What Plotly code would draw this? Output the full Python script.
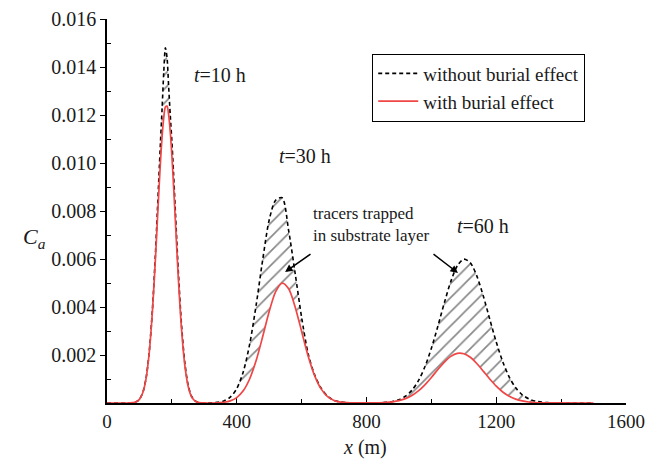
import plotly.graph_objects as go

# ---- data ----
x10 = [60, 70, 80, 90, 100, 110, 120, 130, 140, 150, 155, 160, 165, 170, 175, 180, 185, 190,
       195, 200, 205, 210, 215, 220, 230, 240, 250, 260, 270, 280, 290, 300]
red10 = [0.0000008, 0.0000036, 0.0000142, 0.0000498, 0.000153, 0.000414, 0.000987, 0.00207,
         0.00381, 0.00619, 0.00752, 0.00885, 0.01009, 0.01113, 0.01190, 0.01233, 0.01237,
         0.01202, 0.01131, 0.01031, 0.00911, 0.00779, 0.00645, 0.00518, 0.00303, 0.00156,
         0.00071, 0.00028, 0.0000995, 0.0000307, 0.0000083, 0.000002]
dash10 = [0.0000008, 0.0000036, 0.0000142, 0.00005, 0.000155, 0.00042, 0.001, 0.0021,
          0.00388, 0.0064, 0.0079, 0.0094, 0.0109, 0.0123, 0.0138, 0.0148, 0.0144, 0.0132,
          0.0120, 0.0109, 0.0096, 0.0082, 0.0068, 0.00545, 0.0032, 0.00166, 0.00076, 0.0003,
          0.000107, 0.000033, 0.000009, 0.000002]

x30 = [340, 360, 380, 400, 420, 440, 460, 480, 500, 520, 540, 560, 580, 600, 620, 640, 660,
       680, 700, 720, 740, 760]
red30 = [0.0000094, 0.0000306, 0.0000881, 0.000225, 0.000506, 0.001009, 0.001777, 0.002767,
         0.003812, 0.004641, 0.004997, 0.004757, 0.004004, 0.002980, 0.001961, 0.001141,
         0.000587, 0.000267, 0.000107, 0.0000381, 0.000012, 0.0000034]
dash30 = [0.0000266, 0.0000857, 0.000242, 0.000598, 0.001296, 0.002461, 0.004095, 0.005969,
          0.007624, 0.00845, 0.00855, 0.007184, 0.005406, 0.003565, 0.002059, 0.00118,
          0.00062, 0.00028, 0.000112, 0.00004, 0.0000125, 0.0000035]

x60 = [820, 840, 860, 880, 900, 920, 940, 960, 980, 1000, 1020, 1040, 1060, 1080, 1100, 1120,
       1140, 1160, 1180, 1200, 1220, 1240, 1260, 1280, 1300, 1320, 1340, 1360, 1380]
red60 = [0.0000042, 0.0000101, 0.0000231, 0.0000492, 0.0000975, 0.000181, 0.000312, 0.000504,
         0.000758, 0.001064, 0.001394, 0.001704, 0.001944, 0.002069, 0.002054, 0.001904,
         0.001646, 0.001328, 0.001000, 0.000702, 0.000460, 0.000281, 0.000161, 0.0000856,
         0.0000425, 0.0000197, 0.0000085, 0.0000034, 0.0000013]
dash60 = [0.0000045, 0.0000109, 0.0000273, 0.000064, 0.000139, 0.000282, 0.00053, 0.000928,
          0.001508, 0.002277, 0.003199, 0.004176, 0.005068, 0.005717, 0.005995, 0.005844,
          0.005295, 0.00446, 0.003491, 0.002541, 0.001719, 0.001081, 0.000632, 0.000343,
          0.000173, 0.0000814, 0.0000355, 0.0000144, 0.0000054]

x_start = [0]
x_end = [1500]
zero_start = [0]
zero_end = [0]

x_ticks = [0, 400, 800, 1200, 1600]
x_minor = [200, 600, 1000, 1400]
y_ticks = [0.002, 0.004, 0.006, 0.008, 0.010, 0.012, 0.014, 0.016]
y_tick_labels = ["0.002", "0.004", "0.006", "0.008", "0.010", "0.012", "0.014", "0.016"]
y_minor = [0.001, 0.003, 0.005, 0.007, 0.009, 0.011, 0.013, 0.015]

X = x_start + x10 + x30 + x60 + x_end
R = zero_start + red10 + red30 + red60 + zero_end
D = zero_start + dash10 + dash30 + dash60 + zero_end

FONT = "Liberation Serif"
RED = "rgb(240,70,70)"
TXT = "#1a1a1a"

fig = go.Figure()
# dashed curve (no fill so the legend shows only the dashed line)
fig.add_trace(go.Scatter(x=X, y=D, mode="lines", name="without burial effect",
                         line=dict(color="black", width=1.6, dash="4px,3px", shape="spline", smoothing=0.8)))
# hatch between red curve and dashed curve
fig.add_trace(go.Scatter(x=X, y=R, mode="lines", line=dict(width=0, shape="spline", smoothing=0.8),
                         fill="tonexty", fillcolor="rgba(0,0,0,0)",
                         fillpattern=dict(shape="/", fgcolor="#111111", bgcolor="rgba(255,255,255,0)",
                                          size=10, solidity=0.17),
                         showlegend=False, hoverinfo="skip"))
fig.add_trace(go.Scatter(x=X, y=R, mode="lines", name="with burial effect",
                         line=dict(color=RED, width=1.7, shape="spline", smoothing=0.8)))

ann = [
    dict(x=262, y=0.01367, text="<i>t</i>=10 h", xanchor="left", yanchor="middle"),
    dict(x=524, y=0.01029, text="<i>t</i>=30 h", xanchor="left", yanchor="middle"),
    dict(x=1073, y=0.00738, text="<i>t</i>=60 h", xanchor="left", yanchor="middle"),
]
annotations = []
for a in ann:
    annotations.append(dict(xref="x", yref="y", showarrow=False, font=dict(family=FONT, size=20, color=TXT), **a))
annotations.append(dict(xref="x", yref="y", x=629, y=0.00742, xanchor="left", yanchor="middle",
                        text="tracers trapped<br>in substrate layer", align="left", showarrow=False,
                        font=dict(family=FONT, size=17, color=TXT)))
annotations.append(dict(xref="x", yref="y", x=549, y=0.00546, ax=632, ay=0.00625,
                        axref="x", ayref="y", text="", showarrow=True, arrowhead=2,
                        arrowsize=1, arrowwidth=1.5, arrowcolor="black"))
annotations.append(dict(xref="x", yref="y", x=1082, y=0.00542, ax=1002, ay=0.00625,
                        axref="x", ayref="y", text="", showarrow=True, arrowhead=2,
                        arrowsize=1, arrowwidth=1.5, arrowcolor="black"))
annotations.append(dict(xref="paper", yref="paper", x=-0.14, y=0.43, xanchor="center", yanchor="middle",
                        text="<i>C<sub>a</sub></i>", showarrow=False,
                        font=dict(family=FONT, size=22, color=TXT)))
annotations.append(dict(xref="paper", yref="paper", x=0.497, y=-0.1146, xanchor="center", yanchor="middle",
                        text="<i>x</i> (m)", showarrow=False,
                        font=dict(family=FONT, size=20, color=TXT)))

fig.update_layout(
    width=650, height=469,
    margin=dict(l=107, r=24, t=19, b=66, autoexpand=False),
    paper_bgcolor="white", plot_bgcolor="white",
    font=dict(family=FONT, size=20, color=TXT),
    annotations=annotations,
    legend=dict(x=0.511, y=0.91, xanchor="left", yanchor="top", bordercolor="black", borderwidth=1,
                bgcolor="white", font=dict(family=FONT, size=19, color=TXT), itemwidth=40,
                traceorder="normal", tracegroupgap=0),
    xaxis=dict(range=[0, 1600], tickmode="array", tickvals=x_ticks, ticks="inside", ticklen=6,
               tickwidth=1.2, tickcolor="black", showline=True, linecolor="black", linewidth=1.5,
               showgrid=False, zeroline=False, tickfont=dict(family=FONT, size=19, color=TXT),
               automargin=False, ticklabeloverflow="allow",
               minor=dict(tickmode="array", tickvals=x_minor, ticks="inside", ticklen=4, tickcolor="black",
                          showgrid=False),
               layer="below traces"),
    yaxis=dict(range=[0, 0.016], tickmode="array", tickvals=y_ticks, ticktext=y_tick_labels,
               ticks="outside", ticklen=5, tickwidth=1.2, tickcolor="black", showline=True,
               linecolor="black", linewidth=1.5, showgrid=False, zeroline=False, automargin=False,
               tickfont=dict(family=FONT, size=20, color=TXT),
               minor=dict(tickmode="array", tickvals=y_minor, ticks="inside", ticklen=4, tickcolor="black",
                          showgrid=False)),
)

# remove the page's default body margin so the 650x469 figure fills the window exactly
fig.write_html("out.html", config={"displayModeBar": False},
               post_script="document.body.style.margin='0';document.body.style.overflow='hidden';")
